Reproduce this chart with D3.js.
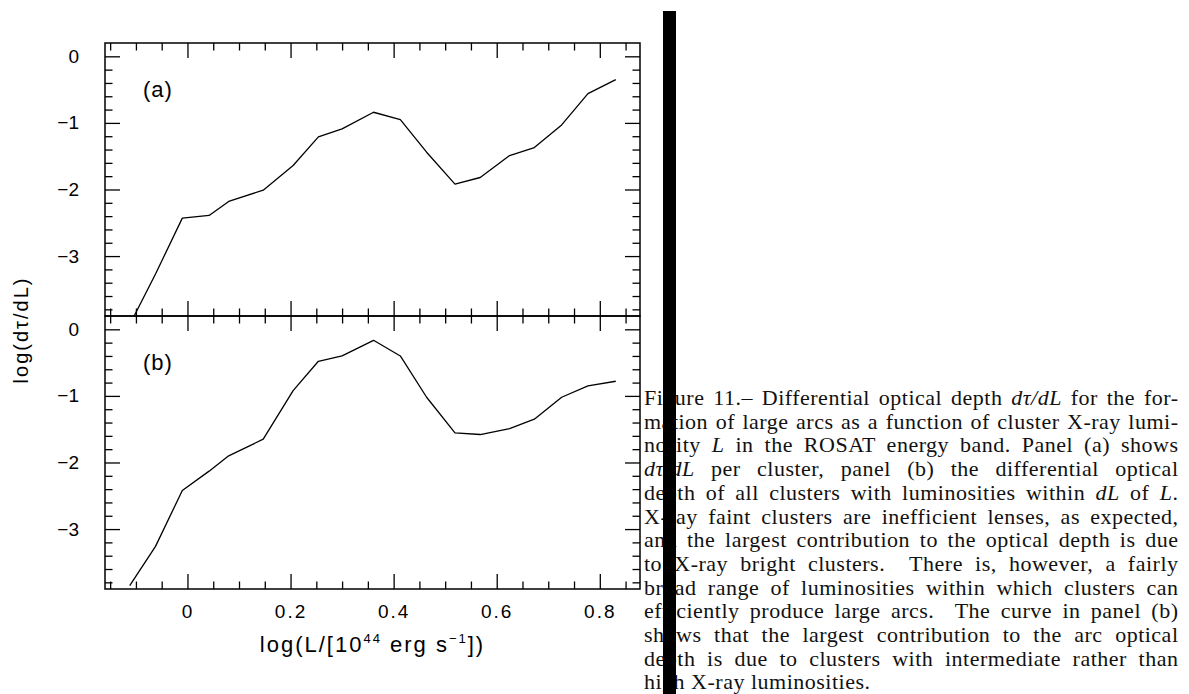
<!DOCTYPE html>
<html><head><meta charset="utf-8">
<script src="https://cdn.jsdelivr.net/npm/d3@7"></script>
<style>body{margin:0;background:#fff}</style>
</head><body>
<svg id="c" width="1189" height="694" xmlns="http://www.w3.org/2000/svg"></svg>
<script>
// ---- data ----
const logL = [-0.112, -0.062, -0.010, 0.042, 0.080, 0.147, 0.205, 0.254, 0.300, 0.361,
              0.413, 0.464, 0.519, 0.568, 0.625, 0.673, 0.726, 0.777, 0.831];
const tauPerCluster = [-4.03, -3.27, -2.43, -2.39, -2.18, -2.01, -1.64, -1.21, -1.09, -0.84,
                       -0.95, -1.44, -1.92, -1.82, -1.49, -1.37, -1.03, -0.56, -0.35];
const tauAllClusters = [-3.85, -3.26, -2.42, -2.13, -1.90, -1.65, -0.92, -0.48, -0.40, -0.165,
                        -0.40, -1.02, -1.555, -1.58, -1.49, -1.35, -1.02, -0.85, -0.78];
const xMajorTicks = [0, 0.2, 0.4, 0.6, 0.8];
const xMinorTicks = [-0.15, -0.1, -0.05, 0.05, 0.1, 0.15, 0.25, 0.3, 0.35, 0.45, 0.5, 0.55, 0.65, 0.7, 0.75, 0.85];
const yMajorTicks = [0, -1, -2, -3];
const yMinorTicks = [-3.8, -3.6, -3.4, -3.2, -2.8, -2.6, -2.4, -2.2, -1.8, -1.6, -1.4, -1.2, -0.8, -0.6, -0.4, -0.2];
const panelLabels = ["(a)", "(b)"];
const captionLines = [
  "Figure 11.– Differential optical depth *dτ/dL* for the for-",
  "mation of large arcs as a function of cluster X-ray lumi-",
  "nosity *L* in the ROSAT energy band. Panel (a) shows",
  "*dτ/dL* per cluster, panel (b) the differential optical",
  "depth of all clusters with luminosities within *dL* of *L*.",
  "X-ray faint clusters are inefficient lenses, as expected,",
  "and the largest contribution to the optical depth is due",
  "to X-ray bright clusters.  There is, however, a fairly",
  "broad range of luminosities within which clusters can",
  "efficiently produce large arcs.  The curve in panel (b)",
  "shows that the largest contribution to the arc optical",
  "depth is due to clusters with intermediate rather than",
  "high X-ray luminosities."
];

// ---- layout ----
const svg = d3.select("#c");
const L = 105, R = 640;
const panels = [
  {y0: 43, y1: 316, values: tauPerCluster, label: panelLabels[0], showX: false},
  {y0: 316, y1: 589, values: tauAllClusters, label: panelLabels[1], showX: true}
];
const x = d3.scaleLinear().domain([-0.16, 0.878]).range([L, R]);
const fmtX = d3.format("~g");
const fmtY = d3.format("~g");
const sansFont = "'Liberation Sans', Arial, sans-serif";

panels.forEach((p, i) => {
  const y = d3.scaleLinear().domain([-3.9, 0.2]).range([p.y1, p.y0]);
  const g = svg.append("g");
  const none = () => "";
  const add = (axis, tx, ty) => {
    const a = g.append("g").attr("transform", `translate(${tx},${ty})`).call(axis);
    a.select(".domain").remove();
    a.selectAll("line").attr("stroke", "#000").attr("stroke-width", 1.3);
    a.selectAll("text").attr("font-family", sansFont).attr("font-size", 19).attr("fill", "#000");
    return a;
  };
  // bottom
  const xb = add(d3.axisBottom(x).tickValues(xMajorTicks).tickSize(-15).tickPadding(16)
      .tickFormat(p.showX ? fmtX : none), 0, p.y1);
  xb.selectAll("text").attr("letter-spacing", 2);
  add(d3.axisBottom(x).tickValues(xMinorTicks).tickSize(-7.5).tickFormat(none), 0, p.y1);
  // top
  add(d3.axisTop(x).tickValues(xMajorTicks).tickSize(-15).tickFormat(none), 0, p.y0);
  add(d3.axisTop(x).tickValues(xMinorTicks).tickSize(-7.5).tickFormat(none), 0, p.y0);
  // left
  add(d3.axisLeft(y).tickValues(yMajorTicks).tickSize(-15).tickPadding(26).tickFormat(fmtY), L, 0);
  add(d3.axisLeft(y).tickValues(yMinorTicks).tickSize(-7.5).tickFormat(none), L, 0);
  // right
  add(d3.axisRight(y).tickValues(yMajorTicks).tickSize(-15).tickFormat(none), R, 0);
  add(d3.axisRight(y).tickValues(yMinorTicks).tickSize(-7.5).tickFormat(none), R, 0);

  // frame
  g.append("rect").attr("x", L).attr("y", p.y0).attr("width", R - L).attr("height", p.y1 - p.y0)
    .attr("fill", "none").attr("stroke", "#000").attr("stroke-width", 1.5);

  // clip + curve
  const cid = "clip" + i;
  svg.append("clipPath").attr("id", cid).append("rect")
    .attr("x", L).attr("y", p.y0).attr("width", R - L).attr("height", p.y1 - p.y0);
  const line = d3.line().x((d, j) => x(logL[j])).y(d => y(d));
  g.append("path").datum(p.values).attr("d", line).attr("clip-path", `url(#${cid})`)
    .attr("fill", "none").attr("stroke", "#000").attr("stroke-width", 1.3).attr("stroke-linejoin", "round");

  // panel label
  g.append("text").attr("x", 143).attr("y", y(0) + 41).text(p.label)
    .attr("font-family", sansFont).attr("font-size", 22).attr("letter-spacing", 1);
});

// axis titles
const xt = svg.append("text").attr("x", (L + R) / 2).attr("y", 652).attr("text-anchor", "middle")
  .attr("font-family", sansFont).attr("font-size", 22).attr("letter-spacing", 2);
xt.append("tspan").text("log(L/[10");
xt.append("tspan").attr("font-size", 13).attr("dy", -9).text("44");
xt.append("tspan").attr("dy", 9).text(" erg s");
xt.append("tspan").attr("font-size", 13).attr("dy", -9).text("−1");
xt.append("tspan").attr("dy", 9).text("])");

svg.append("text").attr("transform", "translate(28,330) rotate(-90)").attr("text-anchor", "middle")
  .attr("font-family", sansFont).attr("font-size", 20).attr("letter-spacing", 2)
  .text("log(dτ/dL)");

// caption
const capX = 644, capR = 1178, capY0 = 405, capDY = 23.7;
captionLines.forEach((ln, i) => {
  const t = svg.append("text").attr("x", capX).attr("y", capY0 + i * capDY)
    .attr("font-family", "'Liberation Serif', 'Times New Roman', serif").attr("font-size", 22)
    .attr("letter-spacing", 0.5)
    .attr("fill", "#111").attr("xml:space", "preserve");
  const parts = ln.split("*");
  parts.forEach((s, k) => {
    if (!s) return;
    const ts = t.append("tspan").text(s);
    if (k % 2 === 1) ts.attr("font-style", "italic");
  });
  if (i < captionLines.length - 1) {
    const plain = ln.replace(/\*/g, "");
    const nSp = (plain.match(/ /g) || []).length;
    const w = t.node().getComputedTextLength() - 0.5;
    if (nSp > 0) t.attr("word-spacing", (capR - capX - w) / nSp);
  }
});

// black bar
svg.append("rect").attr("x", 663).attr("y", 11).attr("width", 13).attr("height", 683).attr("fill", "#000");
</script>
</body></html>
